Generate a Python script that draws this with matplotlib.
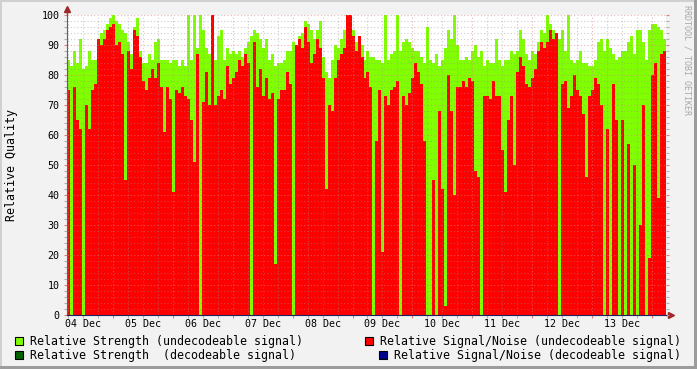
import matplotlib
matplotlib.use("Agg")
import matplotlib.pyplot as plt
from matplotlib.patches import Rectangle
import numpy as np

# relative strength / relative SNR (undecodeable signal), one value per 1.2 h
strength_undec = [
    85, 83, 88, 84, 92, 82, 83, 88, 85, 85, 89, 94, 95, 97, 99, 100, 98, 97, 95, 94,
    91, 87, 96, 99, 88, 84, 84, 87, 85, 91, 92, 85, 85, 85, 84, 85, 85, 83, 85, 83,
    100, 85, 100, 89, 100, 95, 89, 87, 100, 85, 93, 95, 85, 89, 87, 88, 87, 88, 86, 89,
    91, 93, 95, 94, 92, 89, 92, 85, 87, 83, 84, 84, 85, 88, 88, 91, 87, 93, 94, 98,
    97, 95, 92, 95, 98, 86, 81, 79, 85, 90, 89, 92, 95, 98, 100, 95, 91, 91, 90, 85,
    88, 86, 86, 85, 85, 84, 100, 85, 87, 88, 100, 88, 91, 92, 91, 89, 88, 88, 86, 84,
    96, 85, 84, 87, 83, 85, 89, 95, 92, 100, 90, 85, 85, 86, 85, 88, 90, 86, 88, 83,
    85, 84, 84, 92, 85, 83, 85, 85, 88, 87, 88, 95, 92, 87, 85, 88, 87, 91, 95, 94,
    100, 97, 95, 91, 92, 95, 88, 100, 85, 84, 85, 88, 84, 84, 83, 83, 85, 91, 92, 88,
    92, 89, 87, 85, 86, 88, 88, 91, 93, 87, 95, 95, 91, 85, 95, 97, 97, 96, 95, 92,
]
snr_undec = [
    75, 0, 76, 65, 62, 0, 70, 62, 75, 77, 92, 90, 92, 95, 96, 97, 90, 91, 87, 45,
    88, 82, 95, 93, 86, 78, 75, 79, 82, 79, 84, 76, 61, 76, 72, 41, 75, 74, 76, 73,
    72, 65, 51, 87, 0, 71, 81, 70, 100, 70, 73, 75, 72, 83, 77, 79, 81, 85, 83, 87,
    84, 0, 91, 76, 82, 73, 79, 72, 74, 17, 72, 75, 75, 81, 77, 0, 90, 92, 89, 96,
    91, 84, 87, 92, 89, 79, 42, 70, 68, 79, 85, 87, 89, 100, 100, 93, 88, 93, 86, 79,
    81, 76, 0, 58, 75, 21, 73, 70, 75, 76, 78, 0, 73, 70, 74, 79, 84, 81, 77, 58,
    0, 0, 45, 0, 68, 42, 3, 80, 68, 40, 76, 76, 78, 76, 79, 78, 48, 46, 0, 73,
    73, 72, 78, 73, 73, 55, 41, 65, 73, 50, 81, 86, 83, 77, 76, 79, 82, 88, 91, 89,
    91, 95, 92, 94, 0, 77, 78, 69, 73, 80, 75, 73, 67, 46, 73, 75, 79, 77, 70, 0,
    62, 0, 77, 65, 0, 65, 0, 57, 0, 50, 0, 30, 70, 0, 19, 80, 84, 39, 87, 88,
]
day_labels = ["04 Dec", "05 Dec", "06 Dec", "07 Dec", "08 Dec",
              "09 Dec", "10 Dec", "11 Dec", "12 Dec", "13 Dec"]
legend_labels = ["Relative Strength (undecodeable signal)",
                 "Relative Strength  (decodeable signal)",
                 "Relative Signal/Noise (undecodeable signal)",
                 "Relative Signal/Noise (decodeable signal)"]
legend_colors = ["#80FF00", "#006400", "#FF0000", "#000090"]

start_hour = 5.6   # hours after 04 Dec 00:00
step_hours = 1.2

plt.rcParams["font.family"] = "DejaVu Sans Mono"

W, H = 697, 369
fig = plt.figure(figsize=(W / 100, H / 100), dpi=100, facecolor="#F2F2F2")
ax = fig.add_axes([67 / W, 1 - 315 / H, 599 / W, 300 / H])
ax.set_facecolor("white")

n = len(strength_undec)
t = start_hour + step_hours * np.arange(n)
ax.bar(t, strength_undec, width=step_hours, align="edge", color="#80FF00", linewidth=0, zorder=1)
ax.bar(t, snr_undec, width=step_hours, align="edge", color="#FF0000", linewidth=0, zorder=2)

ax.set_xlim(start_hour, start_hour + step_hours * n)
ax.set_ylim(0, 100)

# grid: major every day / 10 units, minor every 6 h / 2 units
ax.set_xticks(np.arange(24, 241, 24))
ax.set_xticks(np.arange(6, 246, 6), minor=True)
ax.set_yticks(np.arange(0, 101, 10))
ax.set_yticks(np.arange(0, 101, 2), minor=True)
ax.set_xticklabels([])
ax.grid(which="major", color="#E08080", alpha=0.6, linestyle=(0, (1, 2)), linewidth=0.8, zorder=3)
ax.grid(which="minor", color="#909090", alpha=0.45, linestyle=(0, (1, 2)), linewidth=0.8, zorder=3)
ax.set_axisbelow(False)
ax.tick_params(which="major", direction="out", length=2.5, width=0.8, color="#E08080",
               labelsize=7.2, pad=3, right=True)
ax.tick_params(which="minor", direction="out", length=2, width=0.8, color="#B0B0B0", right=True)

for k, lab in enumerate(day_labels):
    ax.text(12 + 24 * k, -9 / 300, lab, transform=ax.get_xaxis_transform(),
            ha="center", va="center", fontsize=7.2)

for s in ["top", "right"]:
    ax.spines[s].set_visible(False)
ax.spines["left"].set_color("#606060")
ax.spines["bottom"].set_color("#202060")
ax.spines["left"].set_zorder(4)
ax.spines["bottom"].set_zorder(4)

# axis arrows
ax.plot([0, 0], [1, 1.02], transform=ax.transAxes, color="#606060", lw=1, clip_on=False)
ax.plot([1, 1.007], [0, 0], transform=ax.transAxes, color="#606060", lw=1, clip_on=False)
ax.plot([0], [1.02], marker="^", ms=4.5, color="#A02828", transform=ax.transAxes, clip_on=False)
ax.plot([1.008], [0], marker=">", ms=4.5, color="#A02828", transform=ax.transAxes, clip_on=False)

fig.text(12 / W, 1 - 165 / H, "Relative Quality", rotation=90, ha="center", va="center", fontsize=8.4)
fig.text(687 / W, 1 - 60 / H, "RRDTOOL / TOBI OETIKER", rotation=270, ha="center", va="center",
         fontsize=6, color="#A8A8A8")

# legend
legend_pos = [(15, 341), (15, 355), (365, 341), (379, 355)]
for (px, py), lab, col in zip(legend_pos, legend_labels, legend_colors):
    fig.add_artist(Rectangle((px / W, 1 - (py + 4) / H), 8 / W, 8 / H, transform=fig.transFigure,
                             facecolor=col, edgecolor="black", linewidth=0.8))
    fig.text((px + 15) / W, 1 - py / H, lab, ha="left", va="center", fontsize=8.36)

# 3d frame
fig.add_artist(Rectangle((0, 1 - 2 / H), 1, 2 / H, transform=fig.transFigure, color="#D0D0D0", lw=0))
fig.add_artist(Rectangle((0, 0), 2 / W, 1, transform=fig.transFigure, color="#D0D0D0", lw=0))
fig.add_artist(Rectangle((0, 0), 1, 3 / H, transform=fig.transFigure, color="#9C9C9C", lw=0))
fig.add_artist(Rectangle((1 - 3 / W, 0), 3 / W, 1, transform=fig.transFigure, color="#9C9C9C", lw=0))

fig.savefig("out.png", dpi=100, facecolor=fig.get_facecolor())
